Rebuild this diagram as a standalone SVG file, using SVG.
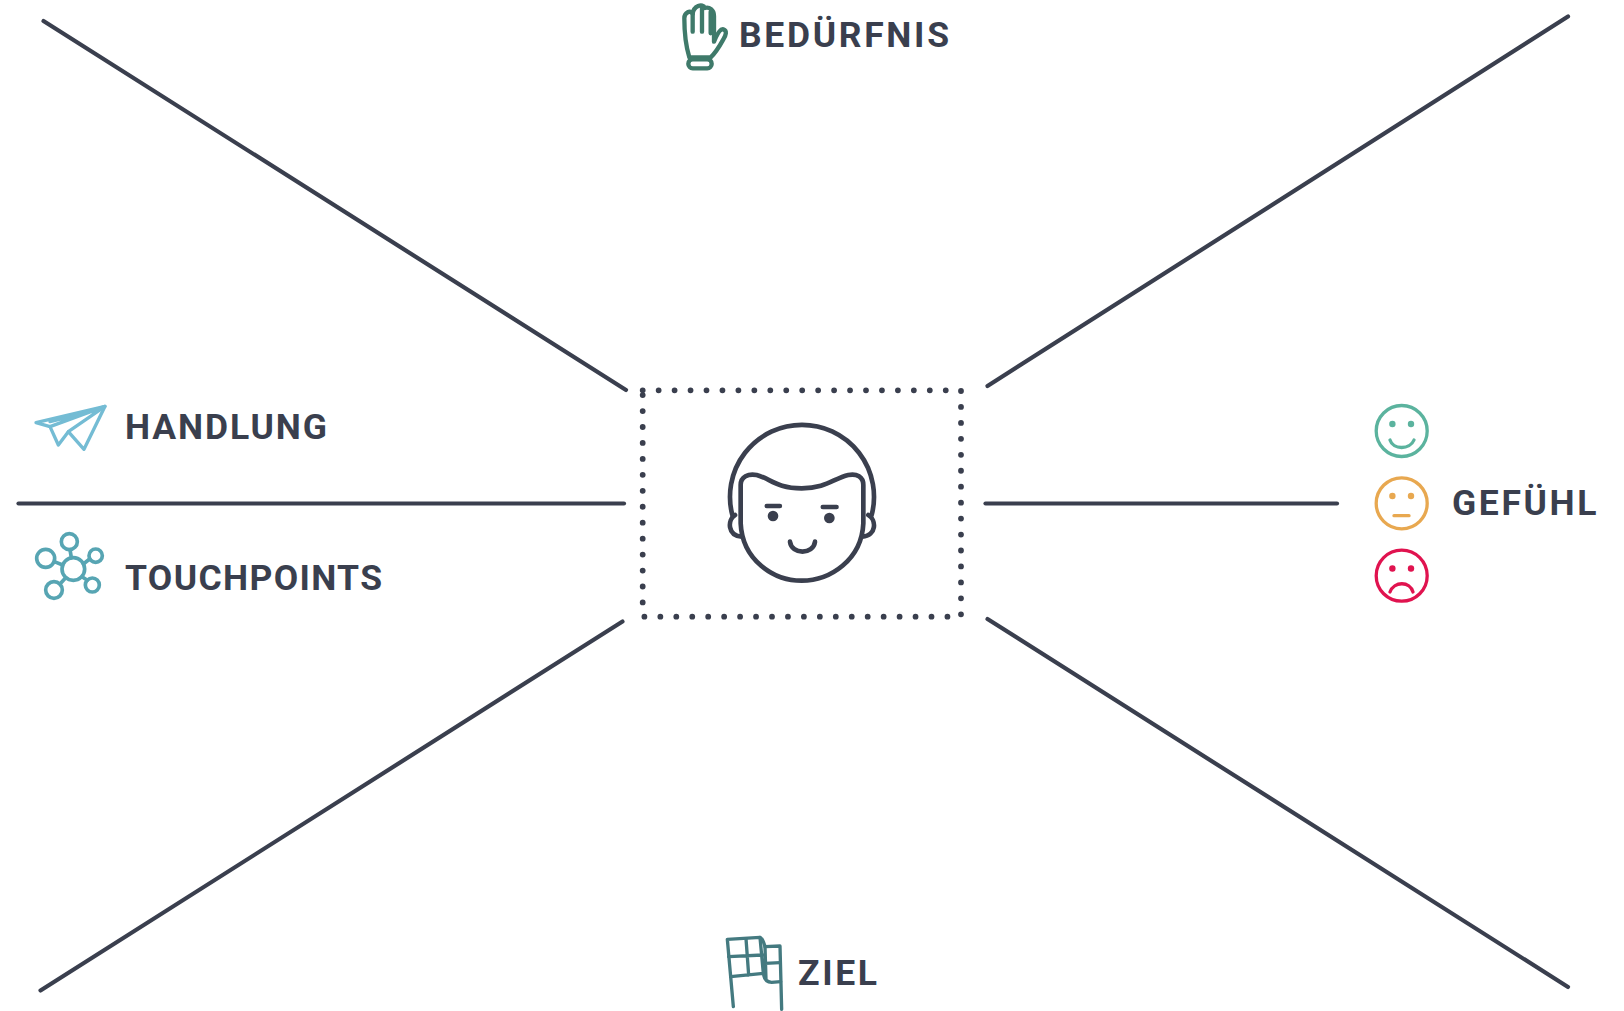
<svg xmlns="http://www.w3.org/2000/svg" width="1624" height="1011" viewBox="0 0 1624 1011">
<style>
.line{stroke:#3a3f4e;stroke-width:4.2;stroke-linecap:round;fill:none}
.lbl{font-family:"Roboto","Liberation Sans",sans-serif;font-weight:700;font-size:35.5px;fill:#3a3f4e}
.ic{fill:none;stroke-width:13;stroke-linecap:round;stroke-linejoin:round}
.fc{fill:none;stroke-width:3.3;stroke-linecap:round}
</style>
<rect width="1624" height="1011" fill="#fff"/>
<g id="connectors">
<line class="line" x1="43.500" y1="21" x2="626" y2="390"/>
<line class="line" x1="1568" y1="16.500" x2="987.500" y2="386"/>
<line class="line" x1="40.500" y1="990.500" x2="622.500" y2="621.500"/>
<line class="line" x1="987.500" y1="619" x2="1568" y2="987"/>
<line class="line" x1="18.500" y1="503.500" x2="624" y2="503.500"/>
<line class="line" x1="985.500" y1="503.500" x2="1337" y2="503.500"/>
</g>
<g id="persona">
<rect x="642.700" y="390.300" width="318.300" height="226.400" fill="none" stroke="#3a3f4e" stroke-width="5.800" stroke-linecap="round" stroke-dasharray="0 15.950"/>
<g transform="translate(620 370) scale(.33333)" fill="none" stroke="#3a3f4e" stroke-width="14" stroke-linecap="round" stroke-linejoin="round">
<path d="M337 435A216 216 0 1 1 755 435"/>
<path d="M362 345C362 320 385 310 410 315C450 325 470 355 545 355C620 355 640 325 685 315C710 310 730 320 730 345L730 460C725 570 630 632 545 632C460 632 367 570 362 460Z"/>
<path d="M345 435C322 450 322 497 365 500M745 435C770 450 770 497 727 500"/>
<path d="M440 408H480M608 411H650" stroke-width="13"/>
<circle cx="459" cy="438" r="16" fill="#3a3f4e" stroke="none"/>
<circle cx="628" cy="444" r="16" fill="#3a3f4e" stroke="none"/>
<path d="M510 515C515 555 580 555 585 515"/>
</g>
</g>
<g id="beduerfnis">
<g class="ic" stroke="#3f7a6a" transform="translate(640 0) scale(.33333)">
<path d="M148 172C138 140 133 100 133 55C133 38 152 28 158 42C160 18 188 8 195 24C208 20 222 30 222 48L222 125C230 105 240 85 250 88C262 92 258 105 250 118C235 145 225 160 212 172Z"/>
<path d="M158 42V95M186 22V95M212 35V100"/>
<rect x="145" y="178" width="70" height="27" rx="13"/>
</g>
<text class="lbl" x="739" y="46.500" textLength="210" lengthAdjust="spacing">BEDÜRFNIS</text>
</g>
<g id="handlung">
<g class="ic" stroke="#74bcd4" transform="translate(0 380) scale(.33333)" style="stroke-width:10">
<path d="M315 79L108 128L150 140L175 195L205 155L252 208Z"/>
<path d="M205 155L315 79L150 140M150 125L295 90"/>
</g>
<text class="lbl" x="125" y="439" textLength="202" lengthAdjust="spacing">HANDLUNG</text>
</g>
<g id="touchpoints">
<g class="ic" stroke="#57a5b3" transform="translate(0 380) scale(.33333)" style="stroke-width:11">
<circle cx="220" cy="567" r="34"/>
<circle cx="208" cy="485" r="24"/>
<circle cx="137" cy="535" r="27"/>
<circle cx="287" cy="527" r="20"/>
<circle cx="277" cy="615" r="21"/>
<circle cx="162" cy="630" r="25"/>
<path d="M214 533L210 509M188 555L163 545M250 552L269 537M246 590L262 601M197 593L180 612"/>
</g>
<text class="lbl" x="125" y="590" textLength="257" lengthAdjust="spacing">TOUCHPOINTS</text>
</g>
<g id="gefuehl">
<g stroke="#5bb39e">
<circle class="fc" cx="1401.700" cy="431" r="25.500"/>
<path class="fc" d="M1390 440C1393 450 1410 450 1414 440"/>
<circle cx="1392.400" cy="424" r="3.200" fill="#5bb39e" stroke="none"/>
<circle cx="1411" cy="424" r="3.200" fill="#5bb39e" stroke="none"/>
</g>
<g stroke="#e8a850">
<circle class="fc" cx="1401.700" cy="503.300" r="25.500"/>
<path class="fc" d="M1394 515.700H1409"/>
<circle cx="1392.400" cy="496" r="3.200" fill="#e8a850" stroke="none"/>
<circle cx="1411" cy="496" r="3.200" fill="#e8a850" stroke="none"/>
</g>
<g stroke="#e0134f">
<circle class="fc" cx="1401.700" cy="575.700" r="25.500"/>
<path class="fc" d="M1390 592C1394 581 1410 581 1413 592"/>
<circle cx="1392.400" cy="568.500" r="3.200" fill="#e0134f" stroke="none"/>
<circle cx="1411" cy="568.500" r="3.200" fill="#e0134f" stroke="none"/>
</g>
<text class="lbl" x="1452" y="515" textLength="144.500" lengthAdjust="spacing">GEFÜHL</text>
</g>
<g id="ziel">
<g class="ic" stroke="#447a80" transform="translate(710 920) scale(.33333)" style="stroke-width:10">
<path d="M70 260L52 58L150 52C158 54 162 70 165 80L210 78L215 268"/>
<path d="M62 170L160 160C162 175 170 187 185 187L212 185M150 52L160 160M108 56L116 165M56 110L158 105M165 80L168 180M165 130L210 128"/>
</g>
<text class="lbl" x="798" y="985" textLength="79" lengthAdjust="spacing">ZIEL</text>
</g>
</svg>
